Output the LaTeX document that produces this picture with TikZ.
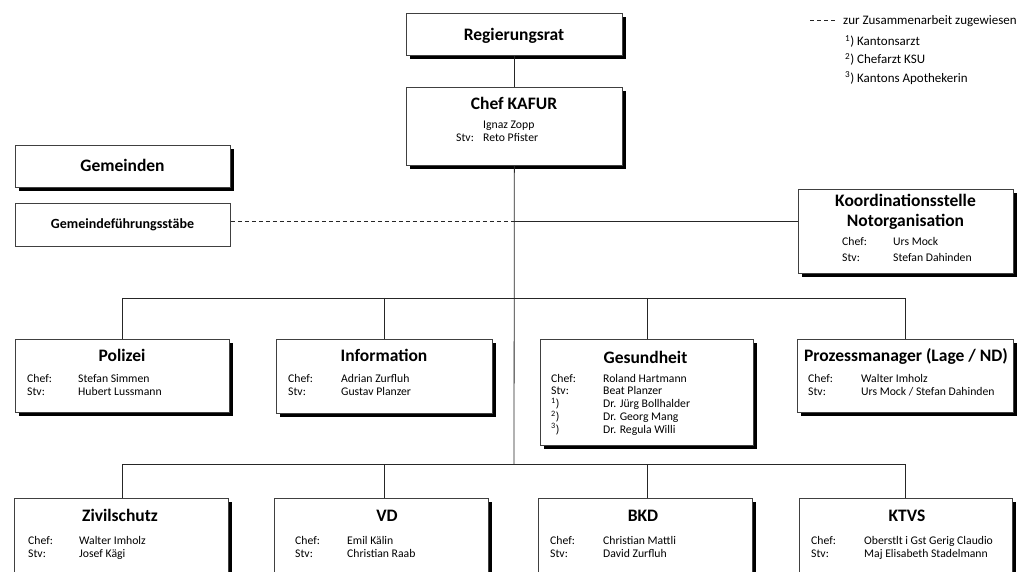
\documentclass[tikz,border=0pt]{standalone}
\usepackage{fontspec}
\setmainfont{Carlito}
\usetikzlibrary{shadows}

\begin{document}
\begin{tikzpicture}
[x=1pt, y=-1pt,
 box/.style={draw=black!75, line width=.8pt, fill=white, anchor=north west, inner sep=0pt},
 shadowbox/.style={box, general shadow={fill=black, shadow xshift=3.5pt, shadow yshift=-3.5pt}},
 head/.style={anchor=base, inner sep=0pt, font=\fontsize{17.5}{21}\selectfont\bfseries},
 info/.style={anchor=base west, inner sep=0pt, font=\fontsize{11.7}{12.8}\selectfont},
 legtext/.style={anchor=base west, inner sep=0pt, font=\fontsize{13}{18.3}\selectfont},
 link/.style={draw=black!85, line width=.8pt}]
\useasboundingbox (0,0) rectangle (1029,572);
\clip (0,0) rectangle (1029,572);

% legend
\coordinate (legA) at (810,20.5);
\coordinate (legB) at (836,20.5);
\draw[link, dash pattern=on 4pt off 3pt] (legA) -- (legB);
\node (legT) [legtext] at (843,24.5) {zur Zusammenarbeit zugewiesen};
\node (legN) [legtext] at (845,45.5) {\begin{tabular}[t]{@{}l@{}}
  \smash{\textsuperscript{1}}) Kantonsarzt\\
  \smash{\textsuperscript{2}}) Chefarzt KSU\\
  \smash{\textsuperscript{3}}) Kantons Apothekerin\end{tabular}};

% top
\node (reg) [shadowbox, minimum width=216pt, minimum height=42pt] at (406,13) {};
\node (regT) [head] at (514,41) {Regierungsrat};
\node (kafur) [shadowbox, minimum width=216pt, minimum height=78pt] at (406,87) {};
\node (kafurT) [head] at (514,110) {Chef KAFUR};
\node (kafurI) [info] at (456,129) {\begin{tabular}[t]{@{}p{27pt}@{}l@{}}
  & Ignaz Zopp\\ Stv: & Reto Pfister\end{tabular}};

\node (gem) [shadowbox, minimum width=215pt, minimum height=42pt] at (15,145) {};
\node (gemT) [head] at (122.5,171.5) {Gemeinden};
\node (gfs) [box, minimum width=215pt, minimum height=43pt] at (15,203) {};
\node (gfsT) [head, font=\fontsize{14}{17}\selectfont\bfseries] at (122.5,229) {Gemeindeführungsstäbe};

\node (kno) [shadowbox, minimum width=215pt, minimum height=84pt] at (798,189) {};
\node (knoT) [head] at (905.5,207) {Koordinationsstelle};
\node (knoU) [head] at (905.5,226.5) {Notorganisation};
\node (knoI) [info] at (842,246) {\begin{tabular}[t]{@{}p{51pt}@{}l@{}}
  Chef: & Urs Mock\\[3.2pt] Stv: & Stefan Dahinden\end{tabular}};

% second row
\node (pol) [shadowbox, minimum width=214pt, minimum height=73pt] at (15,339) {};
\node (polT) [head] at (122,362) {Polizei};
\node (polI) [info] at (27,382.5) {\begin{tabular}[t]{@{}p{51pt}@{}l@{}}
  Chef: & Stefan Simmen\\ Stv: & Hubert Lussmann\end{tabular}};

\node (inf) [shadowbox, minimum width=216pt, minimum height=74pt] at (276,339) {};
\node (infT) [head] at (384,362) {Information};
\node (infI) [info] at (288,382.5) {\begin{tabular}[t]{@{}p{53pt}@{}l@{}}
  Chef: & Adrian Zurfluh\\ Stv: & Gustav Planzer\end{tabular}};

\node (ges) [shadowbox, minimum width=213pt, minimum height=106pt] at (540,339) {};
\node (gesT) [head] at (645.5,363) {Gesundheit};
\node (gesI) [info] at (551,382) {\begin{tabular}[t]{@{}p{52pt}@{}l@{}}
  Chef: & Roland Hartmann\\ Stv: & Beat Planzer\\
  \smash{\textsuperscript{1}}) & Dr. Jürg Bollhalder\\
  \smash{\textsuperscript{2}}) & Dr. Georg Mang\\
  \smash{\textsuperscript{3}}) & Dr. Regula Willi\end{tabular}};

\node (pro) [shadowbox, minimum width=216pt, minimum height=73pt] at (797,339) {};
\node (proT) [head] at (906,362) {Prozessmanager (Lage / ND)};
\node (proI) [info] at (808,382.5) {\begin{tabular}[t]{@{}p{53pt}@{}l@{}}
  Chef: & Walter Imholz\\ Stv: & Urs Mock / Stefan Dahinden\end{tabular}};

% third row
\node (zs) [shadowbox, minimum width=214pt, minimum height=110pt] at (14,498) {};
\node (zsT) [head] at (120,521) {Zivilschutz};
\node (zsI) [info] at (28,544.5) {\begin{tabular}[t]{@{}p{51pt}@{}l@{}}
  Chef: & Walter Imholz\\ Stv: & Josef Kägi\end{tabular}};

\node (vd) [shadowbox, minimum width=214pt, minimum height=110pt] at (274,498) {};
\node (vdT) [head] at (387,521) {VD};
\node (vdI) [info] at (295,544.5) {\begin{tabular}[t]{@{}p{52pt}@{}l@{}}
  Chef: & Emil Kälin\\ Stv: & Christian Raab\end{tabular}};

\node (bkd) [shadowbox, minimum width=214pt, minimum height=110pt] at (538,498) {};
\node (bkdT) [head] at (643,521) {BKD};
\node (bkdI) [info] at (550,544.5) {\begin{tabular}[t]{@{}p{53pt}@{}l@{}}
  Chef: & Christian Mattli\\ Stv: & David Zurfluh\end{tabular}};

\node (ktvs) [shadowbox, minimum width=213pt, minimum height=110pt] at (799,498) {};
\node (ktvsT) [head] at (907,521) {KTVS};
\node (ktvsI) [info] at (811,544.5) {\begin{tabular}[t]{@{}p{53pt}@{}l@{}}
  Chef: & Oberstlt i Gst Gerig Claudio\\ Stv: & Maj Elisabeth Stadelmann\end{tabular}};

% connectors
\coordinate (join) at (514,221);
\coordinate (bus1) at (514,298);
\coordinate (bus2) at (514,464);
\draw[link] (reg) -- (kafur);
\draw[link] (kafur) -- (bus2);
\draw[link, dash pattern=on 4pt off 3pt] (join -| gfs.east) -- (join);
\draw[link] (join) -- (join -| kno.west);

\draw[link] (pol |- bus1) -- (pro |- bus1);
\draw[link] (pol |- bus1) -- (pol.north);
\draw[link] (inf |- bus1) -- (inf.north);
\draw[link] (ges |- bus1) -- (ges.north);
\draw[link] (pro |- bus1) -- (pro.north);

\draw[link] (pol |- bus2) -- (pro |- bus2);
\draw[link] (pol |- bus2) -- (pol |- zs.north);
\draw[link] (inf |- bus2) -- (inf |- vd.north);
\draw[link] (ges |- bus2) -- (ges |- bkd.north);
\draw[link] (pro |- bus2) -- (pro |- ktvs.north);
\end{tikzpicture}
\end{document}
